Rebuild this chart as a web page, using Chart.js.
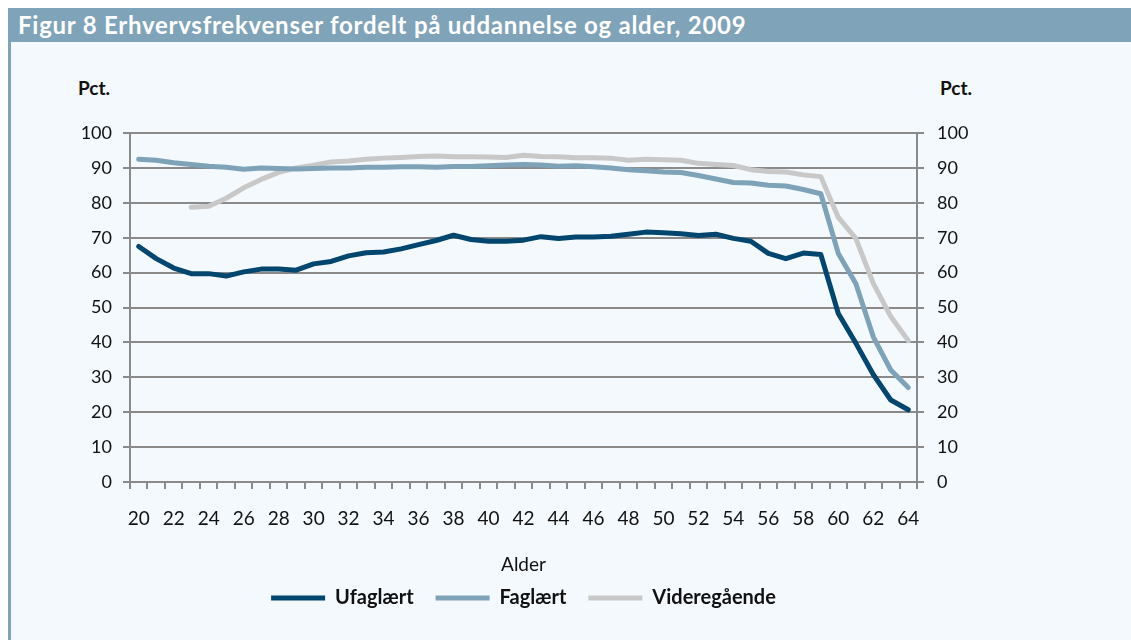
<!DOCTYPE html>
<html>
<head>
<meta charset="utf-8">
<script src="https://cdn.jsdelivr.net/npm/chart.js@4"></script>
<style>
  body { margin: 0; background: #fff; width: 1131px; height: 640px; overflow: hidden; position: relative; font-family: Lato, "Open Sans", sans-serif; }
  #panel { position: absolute; left: 8px; top: 8px; width: 1120px; height: 632px; background: #f4f9fd; border-left: 3px solid #7fa3b8; }
  #title { position: absolute; left: 8px; top: 8px; width: 1113px; height: 34px; line-height: 34px; padding-left: 10px; background: #7fa3b8; color: #fff; font-weight: bold; font-size: 24px; letter-spacing: 0.75px; }
  .unit { position: absolute; top: 76px; font-weight: bold; font-size: 19px; color: #111; }
  canvas { position: absolute; left: 0; top: 0; }
</style>
</head>
<body>
<div id="panel"></div>
<div id="title">Figur 8 Erhvervsfrekvenser fordelt på uddannelse og alder, 2009</div>
<div class="unit" style="left:78px">Pct.</div>
<div class="unit" style="left:940px">Pct.</div>
<canvas id="chart" width="1131" height="640"></canvas>
<script>
// Alder 20-64
const ages = [];
for (let a = 20; a <= 64; a++) ages.push(String(a));

const ufaglaert = [67.5, 64, 61.3, 59.7, 59.7, 59, 60.2, 61, 61, 60.7,
  62.5, 63.2, 64.8, 65.7, 65.9, 66.8, 68, 69.2, 70.7, 69.5,
  69, 69, 69.3, 70.3, 69.8, 70.2, 70.2, 70.4, 71, 71.6,
  71.4, 71.1, 70.6, 71, 69.8, 69, 65.5, 64, 65.6, 65.2,
  48.3, 39.8, 30.8, 23.5, 20.7];

const faglaert = [92.5, 92.2, 91.5, 91, 90.5, 90.2, 89.6, 90, 89.8, 89.7,
  89.8, 90, 90, 90.2, 90.2, 90.3, 90.3, 90.2, 90.4, 90.4,
  90.6, 90.8, 91, 90.8, 90.5, 90.6, 90.3, 90, 89.5, 89.2,
  88.8, 88.7, 87.8, 86.8, 85.8, 85.7, 85, 84.8, 83.8, 82.6,
  65.5, 56.9, 41.6, 32.1, 27.1];

const videregaaende = [null, null, null, 78.7, 79, 81.3, 84.3, 86.7, 88.7, 90,
  90.8, 91.7, 92, 92.5, 92.8, 93, 93.3, 93.4, 93.2, 93.2,
  93.1, 93, 93.6, 93.3, 93.2, 92.9, 92.9, 92.8, 92.2, 92.5,
  92.3, 92.2, 91.3, 91, 90.7, 89.5, 89, 88.8, 88, 87.5,
  75.8, 69.8, 56.9, 47.4, 40.5];

const yTicks = [0, 10, 20, 30, 40, 50, 60, 70, 80, 90, 100];

const gridGrey = '#8a8a8a';
const fontFamily = 'Lato, "Open Sans", sans-serif';
const yFont = { family: fontFamily, size: 18 };
const xFont = { family: fontFamily, size: 19 };

function series(label, data, color) {
  return {
    label: label,
    data: data,
    borderColor: color,
    backgroundColor: color,
    borderWidth: 5,
    borderCapStyle: 'round',
    borderJoinStyle: 'round',
    pointRadius: 0,
    pointHoverRadius: 0,
    tension: 0,
    spanGaps: false
  };
}

new Chart(document.getElementById('chart'), {
  type: 'line',
  data: {
    labels: ages,
    datasets: [
      series('Ufaglært', ufaglaert, '#00466e'),
      series('Faglært', faglaert, '#7ea2b8'),
      series('Videregående', videregaaende, '#c8c8c8')
    ]
  },
  options: {
    responsive: false,
    animation: false,
    layout: { padding: { top: 133, right: 84, bottom: 22, left: 0 } },
    plugins: {
      tooltip: { enabled: false },
      legend: {
        position: 'bottom',
        labels: {
          usePointStyle: true,
          pointStyle: 'line',
          pointStyleWidth: 54,
          padding: 22,
          color: '#111',
          font: { family: fontFamily, size: 20, weight: 'bold' }
        }
      }
    },
    scales: {
      x: {
        offset: true,
        afterFit: s => { s.height = 84; },
        grid: { display: true, drawOnChartArea: false, drawTicks: true, tickLength: 7, offset: true, color: gridGrey, lineWidth: 2 },
        border: { display: true, color: gridGrey, width: 2 },
        ticks: {
          autoSkip: false,
          maxRotation: 0,
          padding: 18,
          color: '#111',
          font: xFont,
          callback: function (value) {
            const lab = this.getLabelForValue(value);
            return Number(lab) % 2 === 0 ? lab : '';
          }
        },
        title: { display: true, text: 'Alder', color: '#111', font: xFont, padding: { top: 0, bottom: -10.4 } }
      },
      y: {
        position: 'left',
        min: 0,
        max: 100,
        afterFit: s => { s.width = 130; },
        afterBuildTicks: s => { s.ticks = yTicks.map(v => ({ value: v })); },
        grid: { color: gridGrey, lineWidth: 2, tickLength: 7 },
        border: { color: gridGrey, width: 2 },
        ticks: { padding: 11, color: '#111', font: yFont }
      },
      y2: {
        position: 'right',
        min: 0,
        max: 100,
        afterFit: s => { s.width = 130; },
        afterBuildTicks: s => { s.ticks = yTicks.map(v => ({ value: v })); },
        grid: { drawOnChartArea: false, color: gridGrey, lineWidth: 2, tickLength: 7 },
        border: { color: gridGrey, width: 2 },
        ticks: { padding: 13, color: '#111', font: yFont }
      }
    }
  }
});
</script>
</body>
</html>
